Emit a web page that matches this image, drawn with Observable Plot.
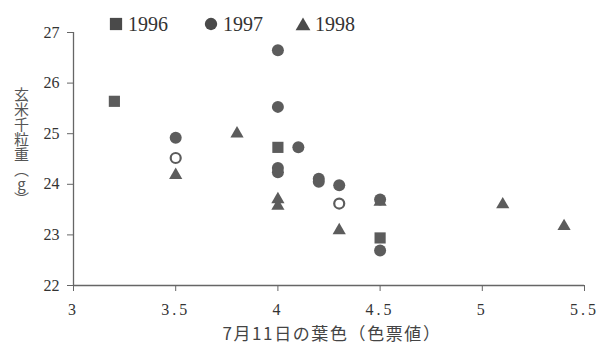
<!DOCTYPE html>
<html><head><meta charset="utf-8">
<script src="https://cdn.jsdelivr.net/npm/d3@7"></script>
<script src="https://cdn.jsdelivr.net/npm/@observablehq/plot@0.6"></script>
<style>
body{margin:0;background:#fff}
#wrap{position:relative;width:600px;height:352px;overflow:hidden}
#wrap svg.plot{position:absolute;left:0;top:0}
#wrap svg.plot text{font-family:"Liberation Serif",serif !important;font-size:16px;fill:#333}
g[aria-label="x-axis tick label"] text{letter-spacing:3px}
#ytitle{position:absolute;left:12px;top:87px;writing-mode:vertical-rl;text-orientation:upright;font-family:"Noto Sans CJK JP",sans-serif;font-size:15px;line-height:18px;color:#555}
#xtitle{position:absolute;left:0;width:664px;top:320px;text-align:center;font-family:"Noto Sans CJK JP",sans-serif;font-size:17px;letter-spacing:1.6px;color:#444}
#legend{position:absolute;left:0;top:0}
</style></head><body><div id="wrap"></div>
<script>
const years = ["1996", "1997", "1998"];
// 1996 (filled squares)
const x1996 = [3.2, 4.0, 4.5];
const y1996 = [25.64, 24.73, 22.94];
// 1997 (filled circles)
const x1997 = [3.5, 4.0, 4.0, 4.1, 4.0, 4.0, 4.2, 4.2, 4.3, 4.5, 4.5];
const y1997 = [24.92, 26.65, 25.53, 24.73, 24.32, 24.24, 24.11, 24.05, 23.98, 23.7, 22.69];
// open circles
const xOpen = [3.5, 4.3];
const yOpen = [24.52, 23.62];
// 1998 (filled triangles)
const x1998 = [3.5, 3.8, 4.0, 4.0, 4.3, 4.5, 5.1, 5.4];
const y1998 = [24.18, 25.0, 23.7, 23.57, 23.09, 23.65, 23.6, 23.17];
const xTicks = [3, 3.5, 4, 4.5, 5, 5.5];
const yTicks = [22, 23, 24, 25, 26, 27];
const xTitle = "7月11日の葉色（色票値）";
const yTitle = "玄米千粒重（g）";

const gray = "#5c5c5c";
const axisColor = "#666";
const rows = (xs, ys) => xs.map((x, i) => ({x, y: ys[i]}));

const chart = Plot.plot({
  width: 600, height: 352,
  marginLeft: 73, marginRight: 16, marginTop: 32, marginBottom: 67,
  style: {fontFamily: "'Liberation Serif', serif", fontSize: "16px", color: "#333", background: "transparent"},
  x: {domain: [3, 5.5]},
  y: {domain: [22, 27]},
  marks: [
    Plot.ruleX([3], {stroke: axisColor, strokeWidth: 1.3}),
    Plot.ruleY([22], {stroke: axisColor, strokeWidth: 1.3}),
    Plot.axisX({ticks: xTicks, tickSize: 6, tickPadding: 12, label: null, stroke: axisColor, tickFormat: d => String(d)}),
    Plot.axisY({ticks: yTicks, tickSize: 6, tickPadding: 8, label: null, stroke: axisColor, tickFormat: d => String(d)}),
    Plot.dot(rows(x1996, y1996), {x: "x", y: "y", symbol: "square", r: 6.3, fill: gray}),
    Plot.dot(rows(x1997, y1997), {x: "x", y: "y", r: 6, fill: gray}),
    Plot.dot(rows(xOpen, yOpen), {x: "x", y: "y", r: 5, fill: "white", stroke: gray, strokeWidth: 2.2}),
    Plot.dot(rows(x1998, y1998), {x: "x", y: "y", symbol: "triangle", r: 4.9, fill: gray})
  ]
});
chart.classList.add("plot");
const wrap = document.getElementById("wrap");
wrap.appendChild(chart);

// legend
const leg = d3.select(wrap).append("svg").attr("id", "legend").attr("width", 600).attr("height", 40);
const symbols = [d3.symbolSquare, d3.symbolCircle, d3.symbolTriangle];
const symSizes = [150, 120, 95];
const legX = [116, 211, 303];
years.forEach((yr, i) => {
  leg.append("path")
    .attr("d", d3.symbol(symbols[i], symSizes[i])())
    .attr("transform", `translate(${legX[i]},${i === 2 ? 26 : 24})`)
    .attr("fill", "#4a4a4a");
  leg.append("text")
    .attr("x", legX[i] + 12).attr("y", 31)
    .attr("font-family", "'Liberation Serif', serif")
    .attr("font-size", 20).attr("fill", "#333")
    .text(yr);
});

const yt = document.createElement("div");
yt.id = "ytitle"; yt.textContent = yTitle; wrap.appendChild(yt);
const xt = document.createElement("div");
xt.id = "xtitle"; xt.textContent = xTitle; wrap.appendChild(xt);
</script>
</body></html>
